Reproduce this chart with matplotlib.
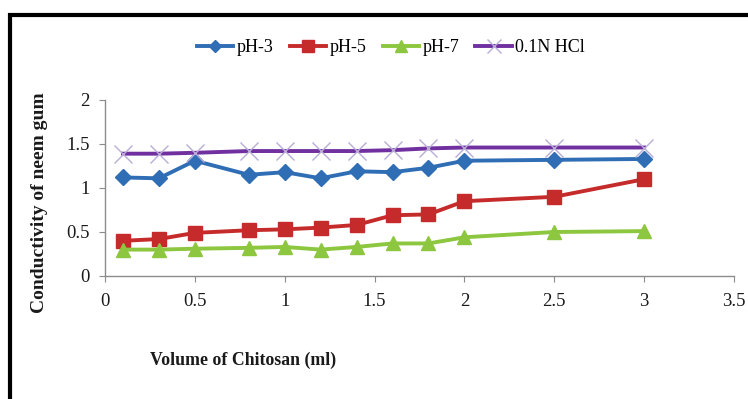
import numpy as np
import matplotlib
matplotlib.use('Agg')
import matplotlib.pyplot as plt
from matplotlib.patches import Rectangle

plt.rcParams['font.family'] = 'Liberation Serif'

volume = [0.1, 0.3, 0.5, 0.8, 1.0, 1.2, 1.4, 1.6, 1.8, 2.0, 2.5, 3.0]
ph3 = [1.12, 1.11, 1.31, 1.15, 1.18, 1.11, 1.19, 1.18, 1.23, 1.31, 1.32, 1.33]
ph5 = [0.40, 0.42, 0.49, 0.52, 0.53, 0.55, 0.58, 0.69, 0.70, 0.85, 0.90, 1.10]
ph7 = [0.30, 0.30, 0.31, 0.32, 0.33, 0.30, 0.33, 0.37, 0.37, 0.44, 0.50, 0.51]
hcl = [1.39, 1.39, 1.40, 1.42, 1.42, 1.42, 1.42, 1.43, 1.45, 1.46, 1.46, 1.46]

xticks = [0, 0.5, 1, 1.5, 2, 2.5, 3, 3.5]
xticklabels = ['0', '0.5', '1', '1.5', '2', '2.5', '3', '3.5']
yticks = [0, 0.5, 1, 1.5, 2]
yticklabels = ['0', '0.5', '1', '1.5', '2']

W, H = 748, 399
fig = plt.figure(figsize=(W/100, H/100), dpi=100)
ax = fig.add_axes([105/W, 1-276/H, (734-105)/W, (276-100)/H])

ax.plot(volume, ph3, color='#2f6db5', lw=2.8, marker='D', ms=8, label='pH-3')
ax.plot(volume, ph5, color='#c62b2b', lw=2.8, marker='s', ms=10.5, label='pH-5')
ax.plot(volume, ph7, color='#8dc63f', lw=2.8, marker='^', ms=10, label='pH-7')
ax.plot(volume, hcl, color='#7030a0', lw=2.8, marker='x', ms=13, mew=1.0,
        mec='#b9acd6', label='0.1N HCl')

ax.set_xlim(0, 3.5)
ax.set_ylim(0, 2)
ax.set_xticks(xticks)
ax.set_xticklabels(xticklabels)
ax.set_yticks(yticks)
ax.set_yticklabels(yticklabels)
ax.spines['top'].set_visible(False)
ax.spines['right'].set_visible(False)
for s in ['left', 'bottom']:
    ax.spines[s].set_color('#8c8c8c')
    ax.spines[s].set_linewidth(1.0)
ax.tick_params(axis='both', color='#8c8c8c', length=4, labelsize=13.5, labelcolor='#1a1a1a')
ax.tick_params(axis='x', pad=8)
ax.tick_params(axis='y', pad=7)
ax.patch.set_visible(False)

fig.text(243/W, 1-360/H, 'Volume of Chitosan (ml)', ha='center', va='center',
         fontsize=12.8, fontweight='bold', color='#1a1a1a')
fig.text(40/W, 1-203/H, 'Conductivity of neem gum', ha='center', va='center',
         rotation=90, fontsize=14, fontweight='bold', color='#1a1a1a')

fig.legend(loc='center', bbox_to_anchor=(391/W, 1-48/H), ncol=4, frameon=False,
           fontsize=13, handlelength=2.0, handletextpad=0.2, columnspacing=0.9,
           markerscale=0.8)

# outer black frame
fig.patches.append(Rectangle((10/W, -0.05), 1.0, 1-15/H+0.05, transform=fig.transFigure,
                             fill=False, edgecolor='black', lw=3, clip_on=False))

fig.savefig('out.png', dpi=100)
